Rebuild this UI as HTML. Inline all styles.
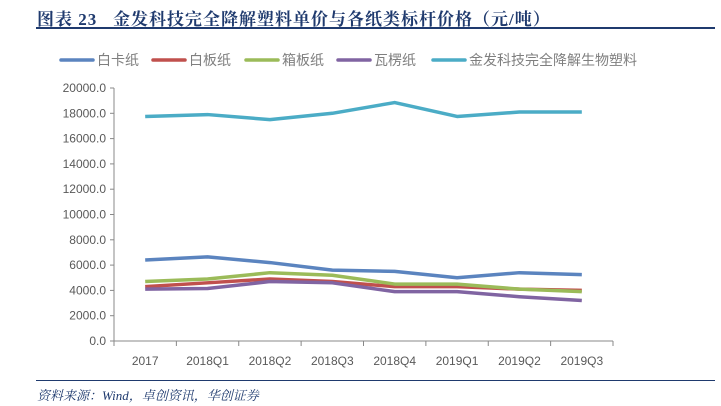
<!DOCTYPE html>
<html><head><meta charset="utf-8"><style>
body{margin:0;width:721px;height:406px;background:#fff;overflow:hidden;font-family:"Liberation Sans","Noto Sans CJK SC",sans-serif}
#title{position:absolute;left:37px;top:5px;font:bold 17px "Liberation Serif","Noto Serif CJK SC",serif;color:#1f3a6e;white-space:nowrap;letter-spacing:1px}
#rule{position:absolute;left:36px;top:27px;width:679px;height:2px;background:#1f3a6e}
#rule2{position:absolute;left:36px;top:380px;width:679px;height:1px;background:#1f3a6e}
#src{position:absolute;left:37px;top:385px;font:italic 13px "Liberation Serif","Noto Serif CJK SC",serif;color:#1f3a6e;white-space:nowrap}
</style></head><body>
<div id="title">图表 23&nbsp;&nbsp; 金发科技完全降解塑料单价与各纸类标杆价格（元/吨）</div>
<div id="rule"></div>
<svg id="chart" width="721" height="406" style="position:absolute;left:0;top:0"></svg>
<div id="rule2"></div>
<div id="src">资料来源：Wind，卓创资讯，华创证券</div>
<script>
const categories=["2017","2018Q1","2018Q2","2018Q3","2018Q4","2019Q1","2019Q2","2019Q3"];
const seriesNames=["白卡纸","白板纸","箱板纸","瓦楞纸","金发科技完全降解生物塑料"];
const seriesColors=["#5b84bf","#c0504d","#9bbb59","#8064a2","#4bacc6"];
const whiteCard=[6400,6650,6200,5600,5500,5000,5400,5250];
const whiteBoard=[4300,4600,4900,4700,4300,4300,4100,4000];
const boxBoard=[4700,4900,5400,5200,4500,4500,4100,3900];
const corrugated=[4100,4150,4700,4600,3900,3900,3500,3200];
const bioPlastic=[17750,17900,17500,18000,18850,17750,18100,18100];
const yTicks=[0,2000,4000,6000,8000,10000,12000,14000,16000,18000,20000];
const allSeries=[whiteCard,whiteBoard,boxBoard,corrugated,bioPlastic];
const NS="http://www.w3.org/2000/svg",svg=document.getElementById('chart');
const x0=114,x1=613,y0=341,y1=88;
const bw=(x1-x0)/categories.length;
const X=i=>x0+bw*(i+0.5), Y=v=>y0-(v/20000)*(y0-y1);
function mk(t,a){const e=document.createElementNS(NS,t);for(const k in a)e.setAttribute(k,a[k]);svg.appendChild(e);return e;}
let e=mk('line',{x1:x0,y1:y1,x2:x0,y2:y0,stroke:'#888'});

e=mk('line',{x1:x0,y1:y0,x2:x1,y2:y0,stroke:'#888'});

yTicks.forEach(v=>{
 const t=mk('line',{x1:x0-4,y1:Y(v),x2:x0,y2:Y(v),stroke:'#888'});
 
 const l=mk('text',{x:x0-8,y:Y(v)+4,'text-anchor':'end','font-size':12,fill:'#595959'});l.textContent=v.toFixed(1);
 
});
for(let i=0;i<=categories.length;i++){
 const t=mk('line',{x1:x0+bw*i,y1:y0,x2:x0+bw*i,y2:y0+5,stroke:'#888'});
 
}
categories.forEach((c,i)=>{
 const l=mk('text',{x:X(i),y:y0+24,'text-anchor':'middle','font-size':12,fill:'#595959'});l.textContent=c;
 
});
allSeries.forEach((s,k)=>{
 const p=mk('polyline',{points:s.map((v,i)=>X(i)+','+Y(v)).join(' '),fill:'none',stroke:seriesColors[k],'stroke-width':3.5,'stroke-linejoin':'round'});
 
});
const legX=[61,153,246,338,433];
seriesNames.forEach((n,k)=>{
 const l=mk('line',{x1:legX[k],y1:60,x2:legX[k]+32,y2:60,stroke:seriesColors[k],'stroke-width':3.5,'stroke-linecap':'round'});
 
 const t=mk('text',{x:legX[k]+36,y:65,'font-size':14,fill:'#7f7f7f'});t.textContent=n;
 
});
</script>
</body></html>
